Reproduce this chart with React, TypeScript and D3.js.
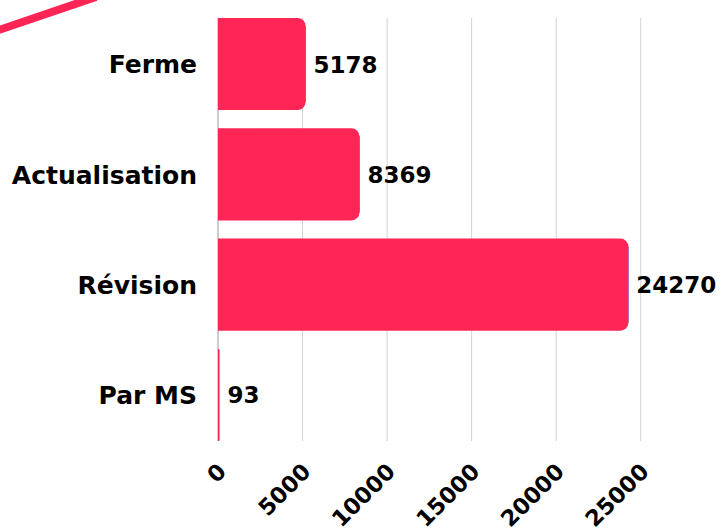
import * as d3 from "d3";

const categories = ["Ferme", "Actualisation", "Révision", "Par MS"];
const values = [5178, 8369, 24270, 93];
const xTicks = [0, 5000, 10000, 15000, 20000, 25000];

const W = 723;
const H = 532;
const BAR = "#ff2656";
const EDGE = "#5a80f0";
const FONT = "'DejaVu Sans', sans-serif";

function barPath(x0: number, x1: number, y0: number, y1: number, r0: number) {
  const r = Math.min(r0, (x1 - x0) / 2, (y1 - y0) / 2);
  return `M${x0},${y0}H${x1 - r}A${r},${r} 0 0 1 ${x1},${y0 + r}V${y1 - r}A${r},${r} 0 0 1 ${x1 - r},${y1}H${x0}Z`;
}

export default function App() {
  const x = d3.scaleLinear().domain([0, 25000]).range([218, 640.7]);
  const y = d3
    .scaleBand<string>()
    .domain(categories)
    .range([18, 441])
    .paddingInner(0.165)
    .paddingOuter(0);
  const [top, bottom] = y.range();

  return (
    <svg
      width={W}
      height={H}
      style={{ position: "absolute", left: 0, top: 0, background: "#fff" }}
      fontFamily={FONT}
      fontWeight={700}
    >
      {/* decorative stroke */}
      <line x1={-4} y1={31} x2={96} y2={-3} stroke={BAR} strokeWidth={8} />

      {/* grid */}
      {xTicks.map((t) => (
        <line
          key={t}
          x1={x(t)}
          x2={x(t)}
          y1={top}
          y2={bottom}
          stroke={t === 0 ? "#9a9a9a" : "#d3d3d3"}
          strokeWidth={1}
        />
      ))}

      {/* bars */}
      {categories.map((c, i) => {
        const y0 = y(c) ?? 0;
        const y1 = y0 + y.bandwidth();
        const x1 = x(values[i]);
        const r = 8;
        return (
          <g key={c}>
            {x1 - x(0) > 2 * r && (
              <line
                x1={x1 - 0.3}
                x2={x1 - 0.3}
                y1={y0 + r}
                y2={y1 - r}
                stroke={EDGE}
                strokeWidth={1.4}
              />
            )}
            <path d={barPath(x(0), x1, y0, y1, r)} fill={BAR} />
            <text
              x={x1 + 8}
              y={(y0 + y1) / 2}
              dy="0.37em"
              fontSize={23}
              fill="#000"
            >
              {values[i]}
            </text>
            <text
              x={197}
              y={(y0 + y1) / 2}
              dy="0.37em"
              fontSize={25}
              textAnchor="end"
              fill="#000"
            >
              {c}
            </text>
          </g>
        );
      })}

      {/* x tick labels */}
      {xTicks.map((t) => (
        <text
          key={t}
          transform={`translate(${x(t) + 9.5},${473}) rotate(-45)`}
          textAnchor="end"
          fontSize={22.5}
          fill="#000"
        >
          {t}
        </text>
      ))}
    </svg>
  );
}
